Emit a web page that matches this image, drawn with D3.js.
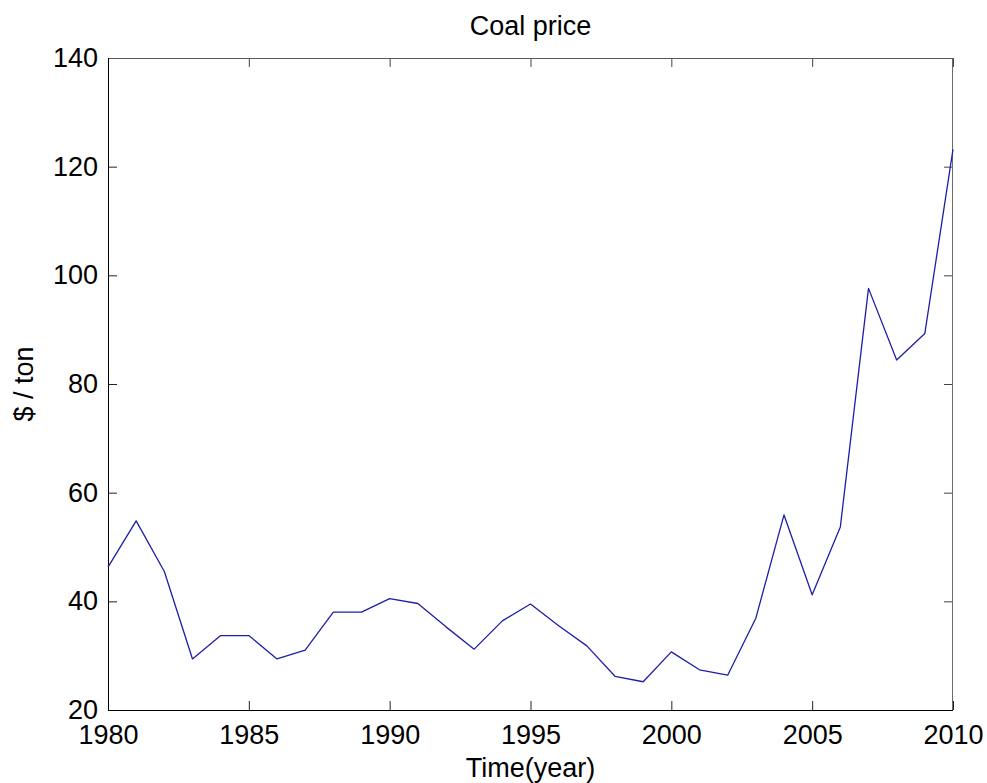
<!DOCTYPE html>
<html>
<head>
<meta charset="utf-8">
<script src="https://cdn.jsdelivr.net/npm/d3@7"></script>
<style>
  html, body { margin: 0; padding: 0; background: #fff; }
  svg { display: block; }
  text { font-family: "Liberation Sans", Arial, Helvetica, sans-serif; fill: #000; }
</style>
</head>
<body>
<svg id="chart" width="987" height="783"></svg>
<script>
// Annual coal price, $ per ton
const years = [1980, 1981, 1982, 1983, 1984, 1985, 1986, 1987, 1988, 1989, 1990,
               1991, 1992, 1993, 1994, 1995, 1996, 1997, 1998, 1999, 2000,
               2001, 2002, 2003, 2004, 2005, 2006, 2007, 2008, 2009, 2010];
const prices = [46.3, 54.8, 45.5, 29.4, 33.7, 33.7, 29.4, 31.0, 38.0, 38.0, 40.5,
                39.6, 35.3, 31.2, 36.4, 39.5, 35.5, 31.8, 26.2, 25.2, 30.7,
                27.4, 26.4, 36.9, 55.9, 41.2, 53.7, 97.6, 84.4, 89.3, 123.2];
const xTicks = [1980, 1985, 1990, 1995, 2000, 2005, 2010];
const yTicks = [20, 40, 60, 80, 100, 120, 140];

const titleText = "Coal price";
const xLabel = "Time(year)";
const yLabel = "$ / ton";

const svg = d3.select("#chart");
const W = 987, H = 783;
const m = { left: 108, right: 34, top: 58, bottom: 73 };
const pw = W - m.left - m.right, ph = H - m.top - m.bottom;

const x = d3.scaleLinear().domain([1980, 2010]).range([0, pw]);
const y = d3.scaleLinear().domain([20, 140]).range([ph, 0]);

const g = svg.append("g").attr("transform", `translate(${m.left},${m.top})`);

// Inward ticks on all four sides (boxed axes)
const tickLen = 9;
const fontSize = 27;

const bottomAxis = d3.axisBottom(x).tickValues(xTicks).tickFormat(d3.format("d"))
  .tickSizeInner(-tickLen).tickSizeOuter(0).tickPadding(15);
const topAxis = d3.axisTop(x).tickValues(xTicks).tickFormat("")
  .tickSizeInner(-tickLen).tickSizeOuter(0);
const leftAxis = d3.axisLeft(y).tickValues(yTicks).tickFormat(d3.format("d"))
  .tickSizeInner(-tickLen).tickSizeOuter(0).tickPadding(10);
const rightAxis = d3.axisRight(y).tickValues(yTicks).tickFormat("")
  .tickSizeInner(-tickLen).tickSizeOuter(0);

function styleAxis(sel, lineColor) {
  sel.selectAll(".domain").remove();
  sel.selectAll(".tick line").attr("stroke", lineColor).attr("stroke-width", 1);
  sel.selectAll(".tick text").attr("font-size", fontSize)
    .style("font-family", '"Liberation Sans", Arial, sans-serif').attr("fill", "#000");
}

g.append("g").attr("transform", `translate(0,${ph})`).call(bottomAxis).call(s => styleAxis(s, "#222"));
g.append("g").call(topAxis).call(s => styleAxis(s, "#444"));
g.append("g").call(leftAxis).call(s => styleAxis(s, "#222"));
g.append("g").attr("transform", `translate(${pw},0)`).call(rightAxis).call(s => styleAxis(s, "#444"));

// Frame
g.append("line").attr("x1", 0).attr("x2", pw).attr("y1", 0.5).attr("y2", 0.5).attr("stroke", "#5a5a5a");
g.append("line").attr("x1", pw - 0.5).attr("x2", pw - 0.5).attr("y1", 0).attr("y2", ph).attr("stroke", "#6a6a6a");
g.append("line").attr("x1", 0.5).attr("x2", 0.5).attr("y1", 0).attr("y2", ph + 0.5).attr("stroke", "#000");
g.append("line").attr("x1", 0).attr("x2", pw).attr("y1", ph + 0.5).attr("y2", ph + 0.5).attr("stroke", "#000");

// Price line
const data = years.map((yr, i) => ({ yr, v: prices[i] }));
const line = d3.line().x(d => x(d.yr)).y(d => y(d.v));
g.append("path").datum(data).attr("d", line)
  .attr("fill", "none").attr("stroke", "#1e1ea8").attr("stroke-width", 1.3)
  .attr("stroke-linejoin", "round");

// Title and axis labels
svg.append("text").attr("x", m.left + pw / 2).attr("y", 35)
  .attr("text-anchor", "middle").attr("font-size", 27).text(titleText);
svg.append("text").attr("x", m.left + pw / 2).attr("y", 777)
  .attr("text-anchor", "middle").attr("font-size", 27).text(xLabel);
svg.append("text")
  .attr("transform", `translate(33,${m.top + ph / 2}) rotate(-90)`)
  .attr("text-anchor", "middle").attr("font-size", 27).text(yLabel);
</script>
</body>
</html>
